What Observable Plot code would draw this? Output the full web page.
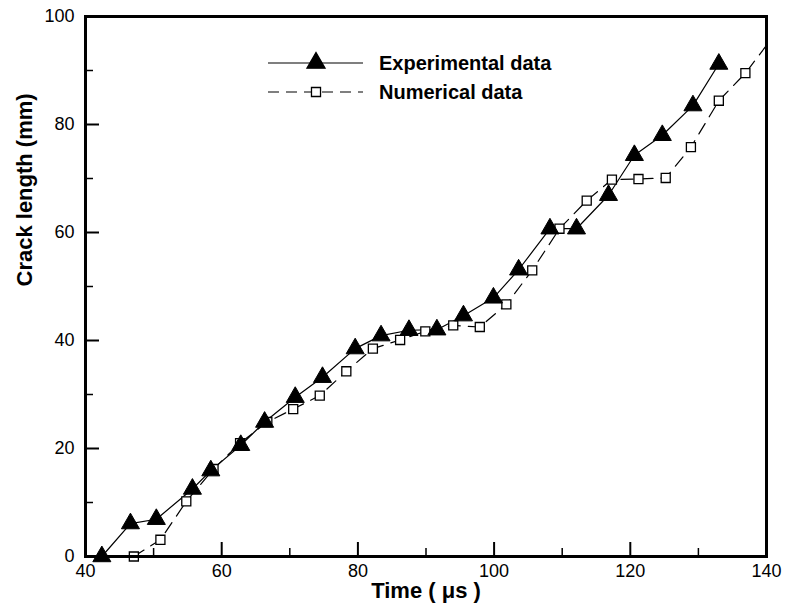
<!DOCTYPE html>
<html><head><meta charset="utf-8">
<script src="https://cdn.jsdelivr.net/npm/d3@7"></script>
<script src="https://cdn.jsdelivr.net/npm/@observablehq/plot@0.6"></script>
<style>body{margin:0;background:#fff} #chart{width:789px;height:614px}</style>
</head><body><div id="chart"></div>
<script>
// Experimental data (filled triangles, solid line)
const expX = [42.4, 46.6, 50.4, 55.7, 58.4, 62.8, 66.3, 70.8, 74.8, 79.6, 83.4, 87.5, 91.6, 95.5, 99.9, 103.6, 108.2, 112.1, 116.8, 120.6, 124.7, 129.2, 133.0];
const expY = [0, 6.1, 6.9, 12.5, 15.9, 20.6, 24.9, 29.5, 33.2, 38.5, 40.9, 41.9, 42.0, 44.6, 47.9, 53.1, 60.7, 60.7, 66.9, 74.3, 78.0, 83.5, 91.2];
// Numerical data (open squares, dashed line); last point lies beyond the frame
const numX = [47.1, 51.0, 54.8, 58.8, 62.7, 66.7, 70.5, 74.4, 78.3, 82.2, 86.2, 89.9, 94.0, 97.9, 101.8, 105.6, 109.6, 113.6, 117.3, 121.2, 125.2, 128.9, 133.0, 136.9, 141.0];
const numY = [0, 3.1, 10.2, 16.2, 21.0, 24.9, 27.3, 29.8, 34.3, 38.5, 40.1, 41.7, 42.8, 42.5, 46.7, 53.0, 60.7, 65.9, 69.8, 69.9, 70.1, 75.8, 84.4, 89.5, 96.3];

const xTickLabels = [40, 60, 80, 100, 120, 140];
const yTickLabels = [0, 20, 40, 60, 80, 100];
const xInnerMajor = [60, 80, 100, 120];
const xMinor = [50, 70, 90, 110, 130];
const yInnerMajor = [20, 40, 60, 80];
const yMinor = [10, 30, 50, 70, 90];
const xTitle = "Time ( \u03bcs )";
const yTitle = "Crack length (mm)";
const legendLabels = ["Experimental data", "Numerical data"];

const xDomain = [40, 140], yDomain = [0, 100];
const exp = expX.map((x, i) => ({x, y: expY[i]}));
const num = numX.map((x, i) => ({x, y: numY[i]}));

const W = 789, H = 614, mL = 85, mR = 23, mT = 16, mB = 58;
const fw = W - mL - mR, fh = H - mT - mB;
const font = "'Liberation Sans', Arial, Helvetica, sans-serif";
const rTri = 6.7, rSq = 5.1;
// inward tick lengths (px) converted to data units
const pxY = (yDomain[1] - yDomain[0]) / fh, pxX = (xDomain[1] - xDomain[0]) / fw;
const majLen = 14, minLen = 8;

const svg = Plot.plot({
  width: W, height: H,
  marginLeft: mL, marginRight: mR, marginTop: mT, marginBottom: mB,
  style: {fontFamily: font, background: "white", color: "black"},
  x: {domain: xDomain},
  y: {domain: yDomain},
  marks: [
    Plot.axisX({ticks: xTickLabels, tickSize: 0, tickPadding: 8, fontSize: 18, label: null}),
    Plot.axisY({ticks: yTickLabels, tickSize: 0, tickPadding: 11, fontSize: 18, label: null}),
    Plot.ruleX(xInnerMajor, {x: d => d, y1: yDomain[0], y2: yDomain[0] + majLen * pxY, stroke: "black", strokeWidth: 2}),
    Plot.ruleX(xMinor, {x: d => d, y1: yDomain[0], y2: yDomain[0] + minLen * pxY, stroke: "black", strokeWidth: 1.5}),
    Plot.ruleY(yInnerMajor, {y: d => d, x1: xDomain[0], x2: xDomain[0] + majLen * pxX, stroke: "black", strokeWidth: 2}),
    Plot.ruleY(yMinor, {y: d => d, x1: xDomain[0], x2: xDomain[0] + minLen * pxX, stroke: "black", strokeWidth: 1.5}),
    Plot.line(num, {x: "x", y: "y", stroke: "black", strokeWidth: 1.2, strokeDasharray: "12,8", clip: true}),
    Plot.line(exp, {x: "x", y: "y", stroke: "black", strokeWidth: 1.2}),
    Plot.dot(num.filter(d => d.x <= xDomain[1]), {x: "x", y: "y", symbol: "square", r: rSq, fill: "white", stroke: "black", strokeWidth: 1.3}),
    Plot.dot(exp, {x: "x", y: "y", symbol: "triangle", r: rTri, fill: "black", stroke: "black", strokeWidth: 1}),
    Plot.frame({stroke: "black", strokeWidth: 3}),
    Plot.text([xTitle], {frameAnchor: "bottom", dy: 41, fontSize: 22, fontWeight: "bold", fill: "black"}),
    Plot.text([yTitle], {frameAnchor: "left", dx: -61, rotate: -90, fontSize: 22, fontWeight: "bold", fill: "black"})
  ]
});

// Legend inside the plot area
const g = d3.select(svg).append("g").attr("font-family", font).attr("text-anchor", "start");
const rows = [
  {label: legendLabels[0], y: 63, dash: null, sym: d3.symbolTriangle, size: Math.PI * rTri * rTri, fill: "black"},
  {label: legendLabels[1], y: 92, dash: "11,7", sym: d3.symbolSquare, size: Math.PI * rSq * rSq, fill: "white"}
];
rows.forEach(r => {
  g.append("line").attr("x1", 268).attr("x2", 363).attr("y1", r.y).attr("y2", r.y)
    .attr("stroke", "black").attr("stroke-width", 1.2).attr("stroke-dasharray", r.dash);
  g.append("path").attr("d", d3.symbol(r.sym, r.size)()).attr("transform", `translate(316,${r.y})`)
    .attr("fill", r.fill).attr("stroke", "black").attr("stroke-width", 1.3);
  g.append("text").attr("x", 379).attr("y", r.y).attr("dy", "0.35em").attr("text-anchor", "start")
    .attr("font-size", 20).attr("font-weight", "bold").attr("fill", "black").text(r.label);
});

document.getElementById("chart").appendChild(svg);
</script>
</body></html>
